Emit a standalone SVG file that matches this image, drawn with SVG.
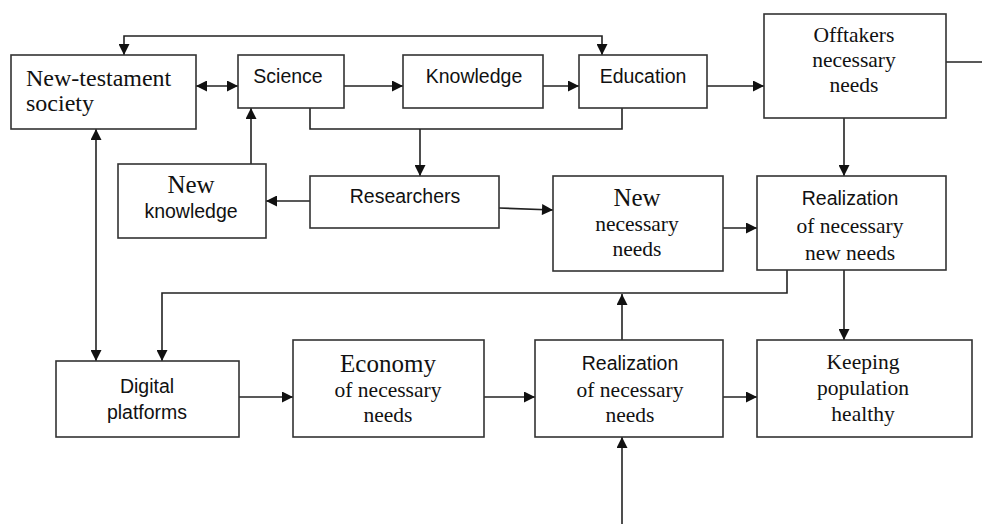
<svg xmlns="http://www.w3.org/2000/svg" width="982" height="524" viewBox="0 0 982 524">
<style>
.box{fill:#fff;stroke:#333;stroke-width:1.6}
.ln{fill:none;stroke:#222;stroke-width:1.6}
.s{font-family:"Liberation Sans",Arial,sans-serif;font-size:19.5px;fill:#111;text-anchor:middle}
.r{font-family:"Liberation Serif","Times New Roman",serif;font-size:21.5px;fill:#111;text-anchor:middle}
.rb{font-family:"Liberation Serif","Times New Roman",serif;font-size:25px;fill:#111;text-anchor:middle}
</style>
<defs>
<marker id="a" viewBox="0 0 10 10" refX="10" refY="5" markerWidth="12" markerHeight="11" markerUnits="userSpaceOnUse" orient="auto-start-reverse">
<path d="M0,0 L10,5 L0,10 Z" fill="#111"/>
</marker>
</defs>
<g id="connectors">
<path class="ln" d="M124 55 V36 H602 V55" marker-start="url(#a)" marker-end="url(#a)"/>
<path class="ln" d="M196 86 H238" marker-start="url(#a)" marker-end="url(#a)"/>
<path class="ln" d="M344 86 H403" marker-end="url(#a)"/>
<path class="ln" d="M543 86 H579" marker-end="url(#a)"/>
<path class="ln" d="M707 86 H764" marker-end="url(#a)"/>
<path class="ln" d="M946 62 H982"/>
<path class="ln" d="M310 108 V129 H622 V108"/>
<path class="ln" d="M420 129 V176" marker-end="url(#a)"/>
<path class="ln" d="M310 201 H266" marker-end="url(#a)"/>
<path class="ln" d="M251 164 V108" marker-end="url(#a)"/>
<path class="ln" d="M96 129 V361" marker-start="url(#a)" marker-end="url(#a)"/>
<path class="ln" d="M499 208 L553 210" marker-end="url(#a)"/>
<path class="ln" d="M723 228 H757" marker-end="url(#a)"/>
<path class="ln" d="M844 118 V176" marker-end="url(#a)"/>
<path class="ln" d="M844 270 V340" marker-end="url(#a)"/>
<path class="ln" d="M787 270 V293 H162 V361" marker-end="url(#a)"/>
<path class="ln" d="M622 340 V294" marker-end="url(#a)"/>
<path class="ln" d="M239 397 H293" marker-end="url(#a)"/>
<path class="ln" d="M484 397 H535" marker-end="url(#a)"/>
<path class="ln" d="M723 397 H757" marker-end="url(#a)"/>
<path class="ln" d="M622 524 V437" marker-end="url(#a)"/>
</g>
<g id="society">
<rect class="box" x="11" y="55" width="185" height="74"/>
<text class="rb" style="font-size:24px;text-anchor:start" x="26" y="86">New-testament</text>
<text class="rb" style="font-size:24px;text-anchor:start" x="26" y="111">society</text>
</g>
<g id="science">
<rect class="box" x="238" y="55" width="106" height="53"/>
<text class="s" x="288" y="83">Science</text>
</g>
<g id="knowledge">
<rect class="box" x="403" y="55" width="140" height="53"/>
<text class="s" x="474" y="83">Knowledge</text>
</g>
<g id="education">
<rect class="box" x="579" y="55" width="128" height="53"/>
<text class="s" x="643" y="83">Education</text>
</g>
<g id="offtakers">
<rect class="box" x="764" y="14" width="182" height="104"/>
<text class="r" x="854" y="42">Offtakers</text>
<text class="r" x="854" y="67">necessary</text>
<text class="r" x="854" y="92">needs</text>
</g>
<g id="new-knowledge">
<rect class="box" x="118" y="164" width="148" height="74"/>
<text class="rb" x="191" y="193">New</text>
<text class="s" x="191" y="218">knowledge</text>
</g>
<g id="researchers">
<rect class="box" x="310" y="176" width="189" height="52"/>
<text class="s" x="405" y="203">Researchers</text>
</g>
<g id="new-necessary-needs">
<rect class="box" x="553" y="176" width="170" height="95"/>
<text class="rb" x="637" y="206">New</text>
<text class="r" x="637" y="231">necessary</text>
<text class="r" x="637" y="256">needs</text>
</g>
<g id="realization-new">
<rect class="box" x="757" y="176" width="189" height="94"/>
<text class="s" x="850" y="205">Realization</text>
<text class="r" x="850" y="233">of necessary</text>
<text class="r" x="850" y="260">new needs</text>
</g>
<g id="digital">
<rect class="box" x="56" y="361" width="183" height="76"/>
<text class="s" x="147" y="393">Digital</text>
<text class="s" x="147" y="419">platforms</text>
</g>
<g id="economy">
<rect class="box" x="293" y="340" width="191" height="97"/>
<text class="rb" x="388" y="372">Economy</text>
<text class="r" x="388" y="397">of necessary</text>
<text class="r" x="388" y="422">needs</text>
</g>
<g id="realization">
<rect class="box" x="535" y="340" width="188" height="97"/>
<text class="s" x="630" y="370">Realization</text>
<text class="r" x="630" y="397">of necessary</text>
<text class="r" x="630" y="422">needs</text>
</g>
<g id="keeping">
<rect class="box" x="757" y="340" width="215" height="97"/>
<text class="r" x="863" y="369">Keeping</text>
<text class="r" x="863" y="395">population</text>
<text class="r" x="863" y="421">healthy</text>
</g>
</svg>
